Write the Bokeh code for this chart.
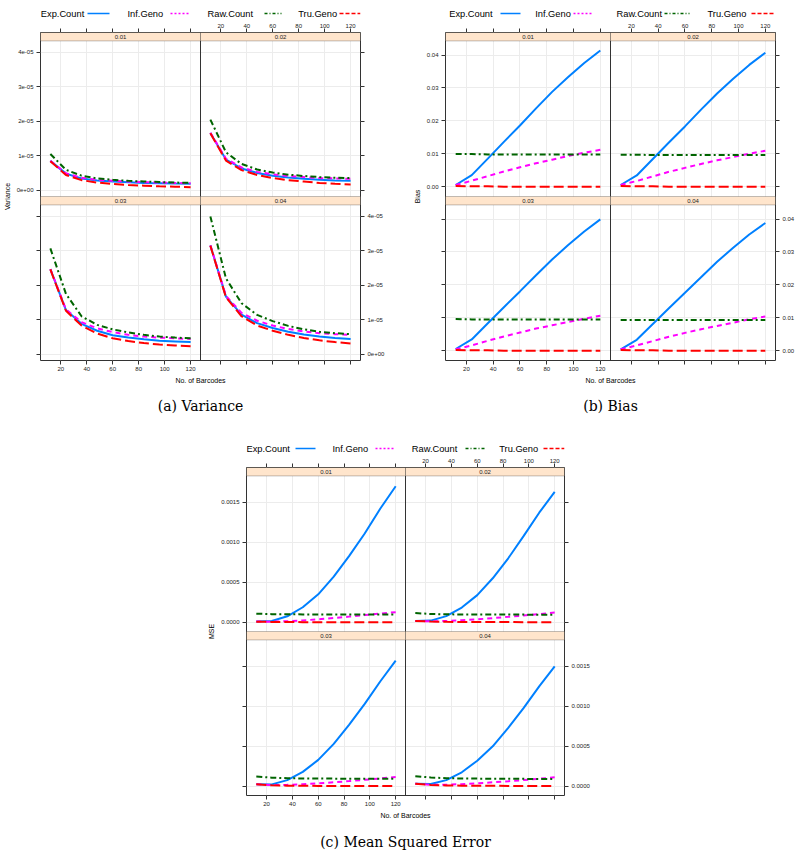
from bokeh.plotting import figure
from bokeh.layouts import row, column
from bokeh.models import (Range1d, LinearAxis, FixedTicker, Grid, BoxAnnotation, Label,
                          Spacer, Span, Title)
from bokeh.embed import file_html
from bokeh.resources import INLINE
from bokeh.core.properties import value

# ---------------- data ----------------
BARCODES = [12, 24, 36, 48, 60, 72, 84, 96, 108, 120]
PANELS = ["0.01", "0.02", "0.03", "0.04"]
SERIES = ["Exp.Count", "Inf.Geno", "Raw.Count", "Tru.Geno"]
X_TICKS = [20, 40, 60, 80, 100, 120]
X_TICK_LABELS = ["20", "40", "60", "80", "100", "120"]

VAR_TICKS = [0, 1e-05, 2e-05, 3e-05, 4e-05]
VAR_TICK_LABELS = ["0e+00", "1e-05", "2e-05", "3e-05", "4e-05"]
BIAS_TICKS = [0, 0.01, 0.02, 0.03, 0.04]
BIAS_TICK_LABELS = ["0.00", "0.01", "0.02", "0.03", "0.04"]
MSE_TICKS = [0, 0.0005, 0.001, 0.0015]
MSE_TICK_LABELS = ["0.0000", "0.0005", "0.0010", "0.0015"]

# Variance (one list per panel 0.01, 0.02, 0.03, 0.04)
VAR_EXP = [
    [8.5e-6, 4.8e-6, 3.4e-6, 2.8e-6, 2.5e-6, 2.3e-6, 2.1e-6, 2.0e-6, 1.9e-6, 1.85e-6],
    [16.6e-6, 8.9e-6, 6.3e-6, 5.0e-6, 4.2e-6, 3.7e-6, 3.3e-6, 3.0e-6, 2.8e-6, 2.7e-6],
    [24.7e-6, 12.8e-6, 8.8e-6, 6.8e-6, 5.5e-6, 4.8e-6, 4.3e-6, 3.9e-6, 3.7e-6, 3.5e-6],
    [31.6e-6, 16.7e-6, 11.5e-6, 9.0e-6, 7.6e-6, 6.5e-6, 5.7e-6, 5.1e-6, 4.7e-6, 4.4e-6],
]
VAR_INF = [
    [8.5e-6, 4.9e-6, 3.6e-6, 3.0e-6, 2.7e-6, 2.5e-6, 2.3e-6, 2.2e-6, 2.1e-6, 2.0e-6],
    [16.7e-6, 9.1e-6, 6.6e-6, 5.3e-6, 4.6e-6, 4.1e-6, 3.8e-6, 3.5e-6, 3.4e-6, 3.3e-6],
    [24.7e-6, 13.0e-6, 9.3e-6, 7.5e-6, 6.4e-6, 5.6e-6, 5.1e-6, 4.8e-6, 4.6e-6, 4.4e-6],
    [31.6e-6, 16.9e-6, 12.0e-6, 9.7e-6, 8.3e-6, 7.3e-6, 6.6e-6, 6.1e-6, 5.8e-6, 5.6e-6],
]
VAR_RAW = [
    [10.5e-6, 5.9e-6, 4.2e-6, 3.4e-6, 3.0e-6, 2.7e-6, 2.5e-6, 2.35e-6, 2.2e-6, 2.1e-6],
    [20.5e-6, 11.0e-6, 7.6e-6, 6.0e-6, 5.1e-6, 4.5e-6, 4.1e-6, 3.8e-6, 3.6e-6, 3.5e-6],
    [30.7e-6, 17.5e-6, 11.0e-6, 8.5e-6, 7.2e-6, 6.3e-6, 5.6e-6, 5.1e-6, 4.8e-6, 4.6e-6],
    [40.0e-6, 22.0e-6, 14.8e-6, 11.4e-6, 9.6e-6, 8.2e-6, 7.2e-6, 6.5e-6, 6.1e-6, 5.8e-6],
]
VAR_TRU = [
    [8.4e-6, 4.4e-6, 2.9e-6, 2.2e-6, 1.8e-6, 1.5e-6, 1.3e-6, 1.1e-6, 1.0e-6, 0.85e-6],
    [16.5e-6, 8.6e-6, 5.8e-6, 4.4e-6, 3.5e-6, 2.9e-6, 2.5e-6, 2.1e-6, 1.85e-6, 1.65e-6],
    [24.6e-6, 12.6e-6, 8.3e-6, 6.0e-6, 4.6e-6, 3.8e-6, 3.2e-6, 2.8e-6, 2.5e-6, 2.3e-6],
    [31.5e-6, 16.5e-6, 11.0e-6, 8.3e-6, 6.8e-6, 5.6e-6, 4.7e-6, 4.0e-6, 3.5e-6, 3.1e-6],
]

# Bias
BIAS_EXP = [
    [0.0005, 0.0035, 0.0085, 0.0136, 0.0186, 0.0238, 0.0288, 0.0333, 0.0376, 0.0414],
    [0.0005, 0.0034, 0.0084, 0.0134, 0.0183, 0.0234, 0.0283, 0.0328, 0.0370, 0.0407],
    [0.0005, 0.0034, 0.0083, 0.0132, 0.0180, 0.0229, 0.0277, 0.0321, 0.0362, 0.0399],
    [0.0004, 0.0033, 0.0081, 0.0129, 0.0176, 0.0223, 0.0270, 0.0313, 0.0353, 0.0388],
]
BIAS_INF = [
    [0.0005, 0.0018, 0.0032, 0.0046, 0.0059, 0.0071, 0.0082, 0.0093, 0.0103, 0.0112],
    [0.0005, 0.0017, 0.0031, 0.0045, 0.0057, 0.0069, 0.0080, 0.0090, 0.0100, 0.0109],
    [0.0004, 0.0016, 0.0030, 0.0043, 0.0055, 0.0067, 0.0077, 0.0087, 0.0097, 0.0106],
    [0.0004, 0.0016, 0.0029, 0.0042, 0.0054, 0.0065, 0.0075, 0.0085, 0.0095, 0.0104],
]
BIAS_RAW = [
    [0.0099, 0.0099, 0.0098, 0.0098, 0.0098, 0.0098, 0.0098, 0.0098, 0.0098, 0.0098],
    [0.0097, 0.0097, 0.0096, 0.0096, 0.0096, 0.0096, 0.0096, 0.0096, 0.0096, 0.0096],
    [0.0096, 0.0095, 0.0095, 0.0095, 0.0095, 0.0095, 0.0095, 0.0095, 0.0095, 0.0095],
    [0.0093, 0.0093, 0.0093, 0.0093, 0.0093, 0.0093, 0.0093, 0.0093, 0.0093, 0.0093],
]
BIAS_TRU = [
    [0.0002, 0.0001, 0.0001, 0.0000, 0.0000, 0.0000, 0.0000, 0.0000, 0.0000, 0.0000],
    [0.0002, 0.0001, 0.0001, 0.0000, 0.0000, 0.0000, 0.0000, 0.0000, 0.0000, 0.0000],
    [0.0002, 0.0001, 0.0001, 0.0000, 0.0000, 0.0000, 0.0000, 0.0000, 0.0000, 0.0000],
    [0.0002, 0.0001, 0.0001, 0.0000, 0.0000, 0.0000, 0.0000, 0.0000, 0.0000, 0.0000],
]

# Mean squared error
MSE_EXP = [
    [0.000009, 0.000017, 0.000075, 0.000188, 0.00035, 0.00057, 0.00083, 0.00111, 0.00142, 0.00170],
    [0.000017, 0.000021, 0.000077, 0.000184, 0.00034, 0.00055, 0.00080, 0.00108, 0.00137, 0.00163],
    [0.000025, 0.000024, 0.000077, 0.000180, 0.00033, 0.00053, 0.00077, 0.00103, 0.00131, 0.00157],
    [0.000032, 0.000028, 0.000077, 0.000175, 0.00032, 0.00050, 0.00073, 0.00098, 0.00125, 0.00150],
]
MSE_INF = [
    [0.000009, 0.000008, 0.000013, 0.000024, 0.000037, 0.000053, 0.000071, 0.000090, 0.000109, 0.000127],
    [0.000017, 0.000012, 0.000016, 0.000025, 0.000037, 0.000052, 0.000068, 0.000085, 0.000103, 0.000122],
    [0.000025, 0.000016, 0.000018, 0.000026, 0.000037, 0.000050, 0.000065, 0.000081, 0.000098, 0.000116],
    [0.000032, 0.000019, 0.000020, 0.000027, 0.000037, 0.000050, 0.000063, 0.000078, 0.000094, 0.000112],
]
MSE_RAW = [
    [0.000108, 0.000102, 0.000100, 0.000099, 0.000099, 0.000098, 0.000098, 0.000098, 0.000098, 0.000098],
    [0.000115, 0.000104, 0.000100, 0.000098, 0.000097, 0.000096, 0.000096, 0.000096, 0.000095, 0.000095],
    [0.000122, 0.000108, 0.000101, 0.000098, 0.000097, 0.000096, 0.000095, 0.000095, 0.000094, 0.000094],
    [0.000127, 0.000110, 0.000101, 0.000098, 0.000096, 0.000095, 0.000094, 0.000093, 0.000092, 0.000092],
]
MSE_TRU = [
    [0.000008, 0.000004, 0.000003, 0.000002, 0.000002, 0.000002, 0.000001, 0.000001, 0.000001, 0.000001],
    [0.000017, 0.000009, 0.000006, 0.000004, 0.000004, 0.000003, 0.000003, 0.000002, 0.000002, 0.000002],
    [0.000025, 0.000013, 0.000008, 0.000006, 0.000005, 0.000004, 0.000003, 0.000003, 0.000003, 0.000002],
    [0.000032, 0.000017, 0.000011, 0.000008, 0.000007, 0.000006, 0.000005, 0.000004, 0.000004, 0.000003],
]

# ---------------- styling ----------------
COLORS = ["#0080ff", "#ff00ff", "#006400", "#ff0000"]
DASHES = ["solid", "5 4", "6 3 2 3", "10 4"]
LEG_DASHES = ["solid", "2 2", "3 2 1 2", "4 2"]
AXC = "#333333"
SANS = "Liberation Sans"
SERIF = "DejaVu Serif"
X_LO, X_HI = 4.4, 127.6
STRIP_H = 8.4
FRAME_H = 164
TOP_B = 13
LEG_H = 19


def make_axis(ticks, labels, standoff, axis_label=None):
    ov = {t: l for t, l in zip(ticks, labels)}
    ax = LinearAxis(ticker=FixedTicker(ticks=ticks), major_label_overrides=ov,
                    axis_line_color=None, major_tick_in=0, major_tick_out=4,
                    major_tick_line_color=AXC, minor_tick_line_color=None,
                    major_label_text_font_size="6px", major_label_text_font=SANS,
                    major_label_text_color="#222222", major_label_standoff=standoff)
    if axis_label:
        ax.axis_label = axis_label
        ax.axis_label_text_font = SANS
        ax.axis_label_text_font_size = "7px"
        ax.axis_label_text_font_style = "normal"
        ax.axis_label_text_color = "#000000"
        ax.axis_label_standoff = 3
    return ax


def legend_fig(left_b, fw, right_b, leg_tx, leg_ln):
    # same borders and frame width as the chart below, coordinates in chart-local pixels
    p = figure(frame_width=2 * fw, frame_height=LEG_H,
               x_range=Range1d(left_b, left_b + 2 * fw), y_range=Range1d(0, LEG_H),
               x_axis_type=None, y_axis_type=None, toolbar_location=None,
               output_backend="svg", title=None,
               min_border_left=left_b, min_border_right=right_b,
               min_border_top=0, min_border_bottom=0)
    p.outline_line_color = None
    p.background_fill_color = "white"
    p.border_fill_color = "white"
    yc = LEG_H - 13
    p.text(x=leg_tx, y=[yc] * 4, text=SERIES, text_font=value(SANS),
           text_font_size=value("9.3px"), text_align="left", text_baseline="middle",
           text_color="#000000")
    for k in range(4):
        p.segment(x0=[leg_ln[k][0]], y0=[yc], x1=[leg_ln[k][1]], y1=[yc],
                  line_color=COLORS[k], line_width=1.3, line_dash=LEG_DASHES[k])
    return p


def make_chart(series, yr, yticks, ylabels, ylab, caption, geo):
    left_b, fw, right_b, bot_b, cap_standoff, leg_tx, leg_ln = geo
    y0, y1 = yr
    H = FRAME_H - STRIP_H
    yend = y1 + (y1 - y0) * STRIP_H / H      # top of strip, in panel data units
    tot = yend - y0                           # one panel row, in data units
    span = X_HI - X_LO                        # one panel column, in data units

    p = figure(frame_width=2 * fw, frame_height=2 * FRAME_H,
               x_range=Range1d(X_LO, X_LO + 2 * span), y_range=Range1d(y0, y0 + 2 * tot),
               x_axis_type=None, y_axis_type=None, toolbar_location=None,
               output_backend="svg", title=None,
               min_border_left=left_b, min_border_right=right_b,
               min_border_top=TOP_B, min_border_bottom=bot_b)
    p.extra_x_ranges = {"right": Range1d(X_LO - span, X_HI)}
    p.extra_y_ranges = {"top": Range1d(y0 - tot, yend)}
    p.outline_line_color = AXC
    p.background_fill_color = "white"
    p.border_fill_color = "white"

    xt_all = X_TICKS + [t + span for t in X_TICKS]
    yt_all = list(yticks) + [t + tot for t in yticks]
    blank_x = [""] * len(X_TICKS)
    blank_y = [""] * len(yticks)

    p.add_layout(Grid(dimension=0, ticker=FixedTicker(ticks=xt_all), grid_line_color="#ececec"))
    p.add_layout(Grid(dimension=1, ticker=FixedTicker(ticks=yt_all), grid_line_color="#ececec"))

    p.add_layout(make_axis(xt_all, blank_x + X_TICK_LABELS, 1), "above")
    p.add_layout(make_axis(xt_all, X_TICK_LABELS + blank_x, 2, "No. of Barcodes"), "below")
    p.add_layout(make_axis(yt_all, blank_y + list(ylabels), 3, ylab), "left")
    p.add_layout(make_axis(yt_all, list(ylabels) + blank_y, 3), "right")

    for idx in range(4):
        xr = "default" if idx % 2 == 0 else "right"
        yrn = "top" if idx < 2 else "default"
        for k in range(4):
            p.line(BARCODES, series[k][idx], line_color=COLORS[k], line_width=2,
                   line_dash=DASHES[k], x_range_name=xr, y_range_name=yrn)

    p.add_layout(Span(location=X_HI, dimension="height", line_color=AXC, line_width=1))
    for idx in range(4):
        xr = "default" if idx % 2 == 0 else "right"
        yrn = "top" if idx < 2 else "default"
        kw = dict(bottom=y1, top=yend, fill_color="#ffe5cc", fill_alpha=1.0,
                  line_color=AXC, line_width=1, x_range_name=xr, y_range_name=yrn)
        if idx % 2 == 0:
            kw["right"] = X_HI
        else:
            kw["left"] = X_LO
        p.add_layout(BoxAnnotation(**kw))
        p.add_layout(Label(x=(X_LO + X_HI) / 2, y=(y1 + yend) / 2, text=PANELS[idx],
                           text_align="center", text_baseline="middle",
                           text_font_size="6px", text_font=SANS, text_color="#222222",
                           x_range_name=xr, y_range_name=yrn))

    p.add_layout(Title(text=caption, align="center", text_font=SERIF, text_font_size="14px",
                       text_font_style="normal", text_color="#000000",
                       standoff=cap_standoff), "below")

    return column(legend_fig(left_b, fw, right_b, leg_tx, leg_ln), p)


chart_a = make_chart([VAR_EXP, VAR_INF, VAR_RAW, VAR_TRU], (-1.85e-06, 4.335e-05),
                     VAR_TICKS, VAR_TICK_LABELS, "Variance", "(a) Variance",
                     (39, 160, 50, 75, 18, [39.3, 126, 206, 296.7],
                      [(86, 108), (169, 188), (263, 280), (338, 359)]))
chart_b = make_chart([BIAS_EXP, BIAS_INF, BIAS_RAW, BIAS_TRU], (-0.003, 0.0443),
                     BIAS_TICKS, BIAS_TICK_LABELS, "Bias", "(b) Bias",
                     (33, 165, 28, 75, 18, [36.7, 122.7, 204, 295],
                      [(88, 108), (161, 181), (252, 277), (339, 361)]))
chart_c = make_chart([MSE_EXP, MSE_INF, MSE_RAW, MSE_TRU], (-0.000115, 0.00183),
                     MSE_TICKS, MSE_TICK_LABELS, "MSE", "(c) Mean Squared Error",
                     (39, 159, 30, 62, 20, [39, 125, 204.3, 291.7],
                      [(88, 108), (168, 186), (258, 277), (336, 357)]))

page = column(row(chart_a, chart_b), row(Spacer(width=205, height=1), chart_c))

with open("out.html", "w") as f:
    f.write(file_html(page, INLINE))
